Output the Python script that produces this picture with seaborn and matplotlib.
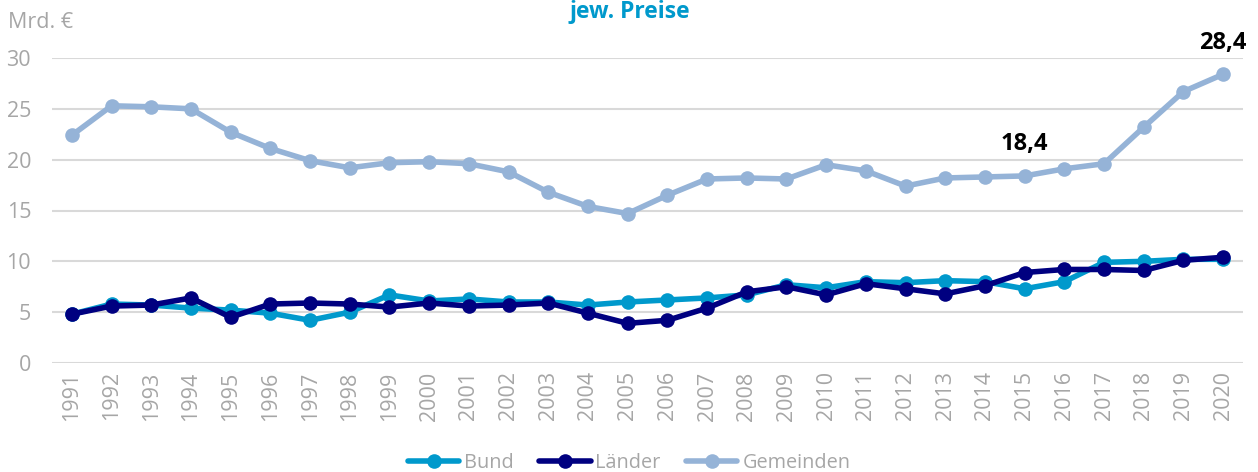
import matplotlib
matplotlib.use("Agg")
import matplotlib.pyplot as plt
import seaborn as sns
import pandas as pd

years = [str(y) for y in range(1991, 2021)]
bund = [4.8, 5.8, 5.7, 5.4, 5.2, 4.9, 4.2, 5.0, 6.7, 6.1, 6.3, 6.0, 6.0, 5.7, 6.0,
        6.2, 6.4, 6.7, 7.7, 7.4, 8.0, 7.9, 8.1, 8.0, 7.3, 8.0, 9.9, 10.0, 10.2, 10.2]
laender = [4.8, 5.6, 5.7, 6.4, 4.5, 5.8, 5.9, 5.8, 5.5, 5.9, 5.6, 5.7, 5.9, 4.9, 3.9,
           4.2, 5.4, 7.0, 7.5, 6.7, 7.8, 7.3, 6.8, 7.6, 8.9, 9.2, 9.2, 9.1, 10.1, 10.4]
gemeinden = [22.4, 25.3, 25.2, 25.0, 22.7, 21.1, 19.9, 19.2, 19.7, 19.8, 19.6, 18.8, 16.8,
             15.4, 14.7, 16.5, 18.1, 18.2, 18.1, 19.5, 18.9, 17.4, 18.2, 18.3, 18.4, 19.1,
             19.6, 23.2, 26.7, 28.4]
series_names = ["Bund", "Länder", "Gemeinden"]
colors = ["#0099CC", "#000080", "#95B3D7"]
annotations = [("2015", 18.4, "18,4"), ("2020", 28.4, "28,4")]

rows = []
for name, vals in zip(series_names, [bund, laender, gemeinden]):
    for i, (y, v) in enumerate(zip(years, vals)):
        rows.append({"pos": i, "Jahr": y, "Wert": v, "Reihe": name})
df = pd.DataFrame(rows)

sns.set_theme(style="white")
plt.rcParams["font.family"] = ["Open Sans", "DejaVu Sans"]

fig = plt.figure(figsize=(12.58, 4.72), dpi=100)
ax = fig.add_axes([52 / 1258, 1 - 363 / 472, (1243 - 52) / 1258, 305 / 472])

grey = "#A6A6A6"
sns.lineplot(data=df, x="pos", y="Wert", hue="Reihe", hue_order=series_names,
             palette=colors, marker="o", markersize=10.5, markeredgewidth=0,
             linewidth=4, ax=ax, legend=True)

ax.set_xlim(-0.5, len(years) - 0.5)
ax.set_ylim(0, 30)
ax.set_yticks([0, 5, 10, 15, 20, 25, 30])
ax.set_xticks(range(len(years)))
ax.set_xticklabels(years, rotation=90)
ax.tick_params(axis="both", colors=grey, labelsize=15.5, length=0, pad=6)
ax.tick_params(axis="y", pad=15)
ax.yaxis.grid(True, color="#D9D9D9", linewidth=1.5)
ax.xaxis.grid(False)
ax.set_axisbelow(True)
for s in ax.spines.values():
    s.set_visible(False)
ax.set_xlabel("")
ax.set_ylabel("")

for yr, v, txt in annotations:
    ax.annotate(txt, (years.index(yr), v), xytext=(0, 14), textcoords="offset points",
                ha="center", va="bottom", fontsize=17, fontweight="bold", color="black")

fig.text(630 / 1258, 1 - 12 / 472, "jew. Preise", ha="center", va="center",
         fontsize=16.5, fontweight="bold", color="#0099CC")
fig.text(8 / 1258, 1 - 22 / 472, "Mrd. €", ha="left", va="center",
         fontsize=15.5, color=grey)

handles, labels = ax.get_legend_handles_labels()
ax.legend_.remove()
leg = fig.legend(handles, labels, loc="lower center", bbox_to_anchor=(0.5, -0.04),
                 ncol=3, frameon=False, fontsize=14.3, handlelength=2.6,
                 columnspacing=1.25, handletextpad=0.25)
for t in leg.get_texts():
    t.set_color(grey)

fig.savefig("out.png", dpi=100)
